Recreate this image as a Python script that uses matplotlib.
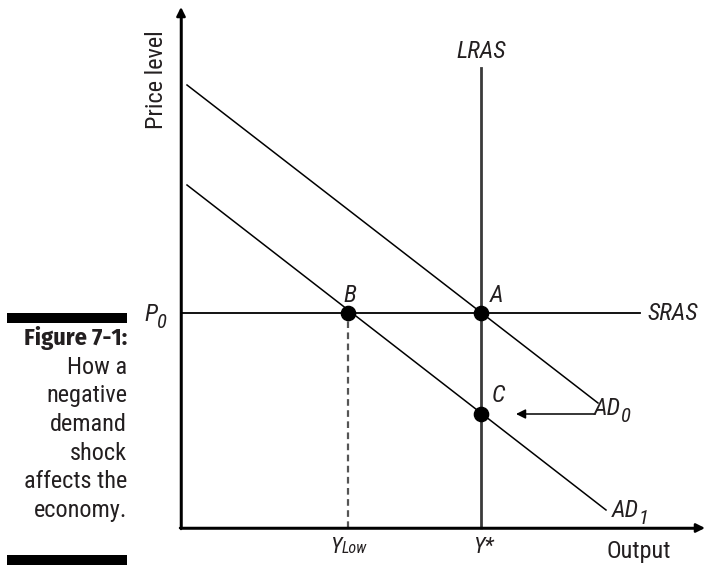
import matplotlib
matplotlib.use('Agg')
import matplotlib.pyplot as plt
from matplotlib.patches import Rectangle

# Data, in chart units (origin at the corner of the two axes)
y_star = 300          # potential output (LRAS)
y_low = 167           # output after the shock
p0 = 215              # fixed price level (SRAS)
lras_top = 460
sras_end = 459
ad0_x = [6, 417]
ad0_y = [443, 125]
ad1_x = [6, 425]
ad1_y = [343, 18]
point_names = ['A', 'B', 'C']
point_x = [300, 167, 300]
point_y = [215, 215, 114]
shift_from = 414
shift_to = 335
caption_lines = ['How a', 'negative', 'demand', 'shock', 'affects the', 'economy.']

plt.rcParams['font.family'] = ['Roboto Condensed', 'DejaVu Sans']

W, H = 706, 565
fig = plt.figure(figsize=(W / 100, H / 100), dpi=100)
ax = fig.add_axes([0, 0, 1, 1])
ox, oy = 181, 528
ax.set_xlim(-ox, W - ox)
ax.set_ylim(-(H - oy), oy)
ax.axis('off')

ink = '#231f20'
axis_col = '#3a3a3a'
# axes with arrows
arrow = dict(arrowstyle='-|>', color='black', lw=1.8, mutation_scale=13, shrinkA=0, shrinkB=0)
ax.annotate('', xy=(524, 0), xytext=(-1, 0), arrowprops=arrow)
ax.annotate('', xy=(0, 521), xytext=(0, -1), arrowprops=arrow)
ax.plot([0, 520], [0, 0], color=axis_col, lw=2, solid_capstyle='butt')
ax.plot([0, 0], [0, 512], color=axis_col, lw=2, solid_capstyle='butt')

# curves
ax.plot([y_star, y_star], [0, lras_top], color=axis_col, lw=2)
ax.plot([0, sras_end], [p0, p0], color='black', lw=1.3)
ax.plot(ad0_x, ad0_y, color='black', lw=1.1)
ax.plot(ad1_x, ad1_y, color='black', lw=1.1)
ax.plot([y_low, y_low], [0, p0], color='#555555', lw=1.6, ls=(0, (3, 2)))
ax.scatter(point_x, point_y, s=105, color='black', zorder=5)

ax.annotate('', xy=(shift_to, point_y[2]), xytext=(shift_from, point_y[2]),
            arrowprops=dict(arrowstyle='-|>', color='black', lw=1.1, mutation_scale=14,
                            shrinkA=0, shrinkB=0))

fs = 17.5
it = dict(style='italic', fontsize=fs, color=ink)


def sub_label(x, y, main, sub, size=fs, drop=7, sub_scale=0.85, gap=0):
    t = ax.text(x, y, main, ha='left', va='baseline', style='italic', fontsize=size, color=ink)
    ax.annotate(sub, xy=(1, y - drop), xycoords=(t, 'data'), xytext=(gap, 0),
                textcoords='offset points', ha='left', va='baseline', style='italic',
                fontsize=size * sub_scale, color=ink)


label_pos = {'A': (309, 233), 'B': (162, 233), 'C': (311, 133)}
for n in point_names:
    lx, ly = label_pos[n]
    ax.text(lx, ly, n, ha='left', va='center', **it)

ax.text(y_star, 476, 'LRAS', ha='center', va='center', **it)
ax.text(466, p0, 'SRAS', ha='left', va='center', **it)
sub_label(413, 113, 'AD', '0')
sub_label(431, 11, 'AD', '1')
sub_label(-37, 207, 'P', '0')
sub_label(149, -25, 'Y', 'Low', size=16, drop=0, sub_scale=0.72)
ax.text(y_star + 2, -25, 'Y*', ha='center', va='baseline', style='italic', fontsize=16, color=ink)
ax.text(458, -30, 'Output', ha='center', va='baseline', fontsize=fs, color=ink)
ax.text(-25, 448, 'Price level', rotation=90, ha='center', va='center', fontsize=fs, color=ink)

# caption block on the left
fig.add_artist(Rectangle((7 / W, 1 - 323 / H), 120 / W, 10 / H, transform=fig.transFigure,
                         color='black', lw=0))
fig.add_artist(Rectangle((7 / W, 1 - 565 / H), 120 / W, 10 / H, transform=fig.transFigure,
                         color='black', lw=0))
fig.text(127 / W, 1 - 338 / H, 'Figure 7-1:', ha='right', va='center', fontsize=fs,
         fontweight='bold', color=ink, family=['Fira Sans Condensed', 'DejaVu Sans'])
for i, line in enumerate(caption_lines):
    fig.text(127 / W, 1 - (367 + 28.7 * i) / H, line, ha='right', va='center',
             fontsize=fs, color=ink)

fig.savefig('out.png', dpi=100)
